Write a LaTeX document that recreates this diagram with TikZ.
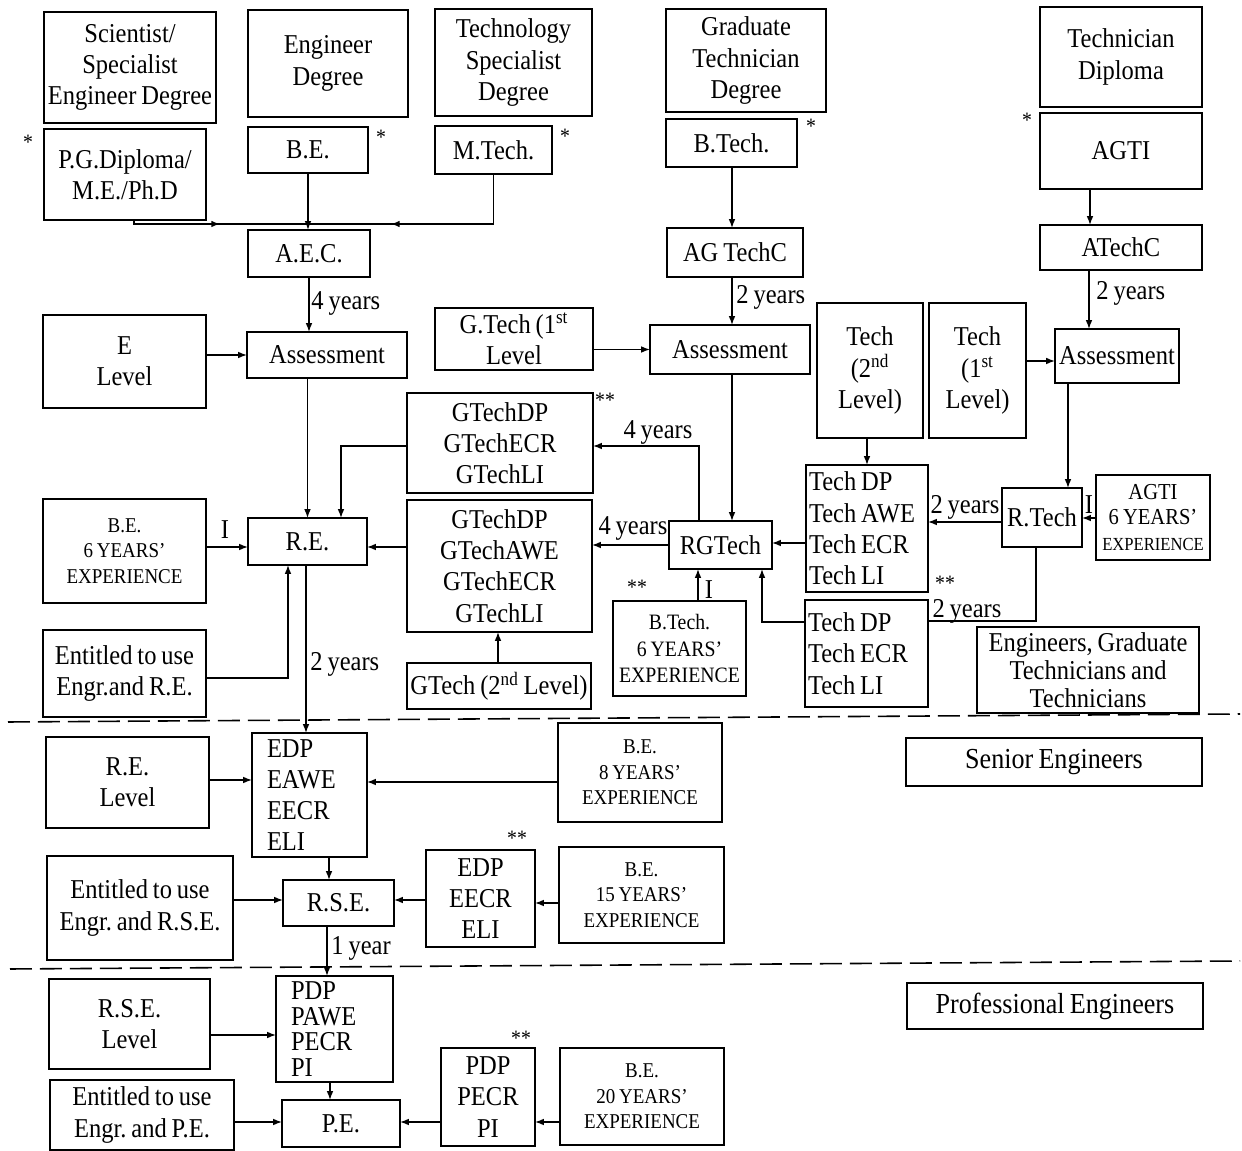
\documentclass[tikz,border=0pt]{standalone}
\usepackage{fontspec}
\setmainfont{Liberation Serif}[FakeStretch=0.9,WordSpace=0.8]
\usetikzlibrary{arrows.meta,decorations.markings}
\newcommand\fmain{\fontsize{15.5}{17.8}\selectfont\frenchspacing}
\newcommand\fexp{\fontsize{12}{14.6}\selectfont\frenchspacing}
\newcommand\fbig{\fontsize{16.5}{19}\selectfont}
\newcommand\fstar{\fontsize{12.5}{14}\selectfont}
\newcommand\nsp{\spaceskip=0pt\xspaceskip=0pt\relax}
\newcommand\bx[7]{\node[boxst,#6,minimum width={(#4-#2)*0.02cm},minimum height={(#5-#3)*0.02cm}] (#1) at ({(#2+#4)/2},{(#3+#5)/2}) {#7};}
\tikzset{
  boxst/.style={draw, line width=0.9pt, inner sep=0pt, outer sep=0pt, align=center, font=\fmain},
  ln/.style={line width=0.85pt},
  arr/.style={line width=0.85pt, -{Latex[length=5pt,width=3.8pt]}},
  midarr/.style={postaction={decorate},decoration={markings,mark=at position #1 with {\arrow{Latex[length=5pt,width=3.8pt]}}}},
  lbl/.style={font=\fmain, inner sep=0pt},
  starl/.style={font=\fstar, inner sep=0pt},
  dashln/.style={line width=0.9pt, dash pattern=on 0.44cm off 0.16cm}
}
\begin{document}
\begin{tikzpicture}[x=0.02cm,y=-0.02cm]
\useasboundingbox (0,0) rectangle (1242,1151);
% top row
\bx{sci}{44}{12}{216}{123}{}{Scientist/\\Specialist\\Engineer Degree}
\bx{engd}{248}{10}{408}{117}{}{Engineer\\Degree}
\bx{techsd}{435}{9}{592}{116}{}{Technology\\Specialist\\Degree}
\bx{gtd}{666}{9}{826}{112}{}{Graduate\\Technician\\Degree}
\bx{techdip}{1040}{7}{1202}{107}{}{Technician\\Diploma}
% second row
\bx{pgd}{44}{129}{206}{220}{}{P.G.Diploma/\\M.E./Ph.D}
\bx{be}{248}{127}{368}{173}{}{B.E.}
\bx{mtech}{435}{126}{552}{174}{}{M.Tech.}
\bx{btech}{666}{119}{797}{167}{}{B.Tech.}
\bx{agti}{1040}{113}{1202}{189}{}{AGTI}
\node[starl] (s1) at (28,142) {*};
\node[starl] (s2) at (381,137) {*};
\node[starl] (s3) at (565,136) {*};
\node[starl] (s4) at (811,126) {*};
\node[starl] (s5) at (1027,120) {*};
% third row
\bx{aec}{248}{230}{370}{277}{}{A.E.C.}
\bx{agtc}{667}{228}{803}{277}{}{AG TechC}
\bx{atc}{1040}{225}{1202}{270}{}{ATechC}
% assessment row
\bx{elev}{43}{315}{206}{408}{}{E\\Level}
\bx{ass1}{247}{332}{407}{378}{}{Assessment}
\bx{gt1}{435}{308}{593}{370}{}{G.Tech (1\textsuperscript{st}\\Level}
\bx{ass2}{650}{325}{810}{374}{}{Assessment}
\bx{t2}{817}{303}{923}{438}{}{Tech\\(2\textsuperscript{nd}\\Level)}
\bx{t1}{929}{303}{1026}{438}{}{Tech\\(1\textsuperscript{st}\\Level)}
\bx{ass3}{1055}{329}{1179}{383}{}{Assessment}
% middle block
\bx{gtu}{407}{393}{593}{493}{}{GTechDP\\GTechECR\\GTechLI}
\node[starl] (s6) at (605,400) {**};
\bx{gtl}{407}{500}{592}{632}{}{GTechDP\\GTechAWE\\GTechECR\\GTechLI}
\bx{re}{248}{518}{367}{565}{}{R.E.}
\bx{be6}{43}{499}{206}{603}{font=\fexp}{B.E.\\6 YEARS’\\EXPERIENCE}
\bx{ent1}{43}{630}{206}{717}{}{Entitled to use\\Engr.and R.E.}
\bx{gt2l}{407}{663}{591}{709}{}{GTech (2\textsuperscript{nd} Level)}
\bx{rgt}{669}{521}{772}{569}{}{RGTech}
\bx{tdu}{806}{465}{928}{592}{align=left,text width=2.32cm}{\nsp Tech DP\\Tech AWE\\Tech ECR\\Tech LI}
\bx{rtech}{1002}{488}{1082}{547}{}{R.Tech}
\bx{agti6}{1096}{475}{1210}{560}{font=\fontsize{13}{14.5}\selectfont}{AGTI\\6 YEARS’\\\fontsize{10.5}{12}\selectfont EXPERIENCE}
\bx{bt6}{613}{601}{746}{696}{font=\fontsize{12.5}{15}\selectfont}{B.Tech.\\6 YEARS’\\EXPERIENCE}
\node[starl] (s7) at (637,587) {**};
\bx{tdl}{805}{600}{928}{707}{align=left,text width=2.34cm}{\nsp Tech DP\\Tech ECR\\Tech LI}
\bx{egt}{977}{627}{1199}{713}{font=\fontsize{15.5}{16}\selectfont}{Engineers, Graduate\\Technicians and\\Technicians}
% senior
\bx{senior}{906}{738}{1202}{786}{font=\fbig}{Senior Engineers}
\bx{eedp}{252}{733}{367}{857}{align=left,text width=1.7cm}{EDP\\EAWE\\EECR\\ELI}
\bx{relev}{46}{737}{209}{828}{}{R.E.\\Level}
\bx{be8}{558}{723}{722}{822}{font=\fexp}{B.E.\\8 YEARS’\\EXPERIENCE}
\bx{rse}{283}{880}{394}{926}{}{R.S.E.}
\bx{ent2}{47}{856}{233}{960}{}{Entitled to use\\Engr. and R.S.E.}
\bx{eedp2}{426}{850}{535}{947}{}{EDP\\EECR\\ELI}
\node[starl] (s8) at (517,838) {**};
\bx{be15}{559}{847}{724}{943}{font=\fexp}{B.E.\\15 YEARS’\\EXPERIENCE}
% professional
\bx{prof}{907}{983}{1203}{1029}{font=\fbig}{Professional Engineers}
\bx{pdp}{276}{976}{393}{1082}{align=left,text width=1.74cm,font=\fontsize{15.5}{14.5}\selectfont}{PDP\\PAWE\\PECR\\PI}
\bx{rselev}{49}{979}{210}{1069}{}{R.S.E.\\Level}
\bx{pe}{282}{1100}{400}{1147}{}{P.E.}
\bx{ent3}{50}{1080}{234}{1150}{}{Entitled to use\\Engr. and P.E.}
\bx{pdp2}{441}{1048}{535}{1146}{}{PDP\\PECR\\PI}
\node[starl] (s9) at (521,1038) {**};
\bx{be20}{560}{1048}{724}{1145}{font=\fexp}{B.E.\\20 YEARS’\\EXPERIENCE}
% dashed separators
\draw[dashln] (8,722) -- (1240,714);
\draw[dashln] (10,969) -- (1240,961);
% connectors top
\coordinate (jn) at (308,224);
\draw[ln,midarr=0.506] (pgd.south -| 134,0) |- (jn);
\draw[ln,midarr=0.648] (mtech.south) |- (jn);
\draw[arr] (be.south) -- (be.south |- aec.north);
\draw[arr] (aec.south) -- (aec.south |- ass1.north);
\node[lbl,anchor=west] (l1) at (311,303) {4 years};
\draw[arr] (elev.east |- ass1.west) -- (ass1.west);
\draw[arr] (ass1.south -| re.north) -- (re.north);
\draw[arr] (gtu.west |- 0,446) -| (re.north -| 341,0);
\draw[arr] (gtl.west |- 0,547) -- (re.east |- 0,547);
\draw[arr] (be6.east |- 0,547) -- (re.west |- 0,547);
\node[lbl] (i1) at (225,530) {I};
\draw[arr] (ent1.east |- 0,678) -| (re.south -| 288,0);
\draw[arr] (re.south -| 306,0) -- (eedp.north -| 306,0);
\node[lbl,anchor=west] (l2) at (310,664) {2 years};
\draw[arr] (gt2l.north -| 498,0) -- (gtl.south -| 498,0);
\draw[arr] (gt1.east |- ass2.west) -- (ass2.west);
\draw[arr] (btech.south -| 732,0) -- (agtc.north -| 732,0);
\draw[arr] (agtc.south -| 732,0) -- (ass2.north -| 732,0);
\node[lbl,anchor=west] (l3) at (736,297) {2 years};
\draw[arr] (ass2.south -| 732,0) -- (rgt.north -| 732,0);
\draw[arr] (rgt.north -| 699,0) |- (gtu.east |- 0,446);
\node[lbl] (l4) at (658,432) {4 years};
\draw[arr] (rgt.west |- 0,545) -- (gtl.east |- 0,545);
\node[lbl] (l5) at (633,528) {4 years};
\draw[arr] (tdu.west |- 0,543) -- (rgt.east |- 0,543);
\draw[arr] (bt6.north -| 698,0) -- (rgt.south -| 698,0);
\node[lbl] (i2) at (709,590) {I};
\draw[arr] (tdl.west |- 0,622) -| (rgt.south -| 762,0);
\draw[arr] (t2.south -| 867,0) -- (tdu.north -| 867,0);
\draw[arr] (t1.east |- 0,361) -- (ass3.west |- 0,361);
\draw[arr] (agti.south -| 1090,0) -- (atc.north -| 1090,0);
\draw[arr] (atc.south -| 1089,0) -- (ass3.north -| 1089,0);
\node[lbl,anchor=west] (l6) at (1096,293) {2 years};
\draw[arr] (ass3.south -| 1068,0) -- (rtech.north -| 1068,0);
\draw[arr] (agti6.west |- 0,518) -- (rtech.east |- 0,518);
\node[lbl] (i3) at (1089,505) {I};
\draw[arr] (rtech.west |- 0,522) -- (tdu.east |- 0,522);
\node[lbl] (l7) at (965,507) {2 years};
\draw[ln] (rtech.south -| 1036,0) |- (tdl.east |- 0,621);
\node[starl] (s10) at (945,583) {**};
\node[lbl] (l8) at (967,611) {2 years};
% connectors lower
\draw[arr] (relev.east |- 0,780) -- (eedp.west |- 0,780);
\draw[arr] (be8.west |- 0,782) -- (eedp.east |- 0,782);
\draw[arr] (eedp.south -| 329,0) -- (rse.north -| 329,0);
\draw[arr] (ent2.east |- 0,900) -- (rse.west |- 0,900);
\draw[arr] (eedp2.west |- 0,900) -- (rse.east |- 0,900);
\draw[arr] (be15.west |- 0,903) -- (eedp2.east |- 0,903);
\draw[arr] (rse.south -| 327,0) -- (pdp.north -| 327,0);
\node[lbl,anchor=west] (l9) at (331,948) {1 year};
\draw[arr] (rselev.east |- 0,1035) -- (pdp.west |- 0,1035);
\draw[arr] (pdp.south -| 330,0) -- (pe.north -| 330,0);
\draw[arr] (ent3.east |- 0,1122) -- (pe.west |- 0,1122);
\draw[arr] (pdp2.west |- 0,1122) -- (pe.east |- 0,1122);
\draw[arr] (be20.west |- 0,1122) -- (pdp2.east |- 0,1122);
\end{tikzpicture}
\end{document}
